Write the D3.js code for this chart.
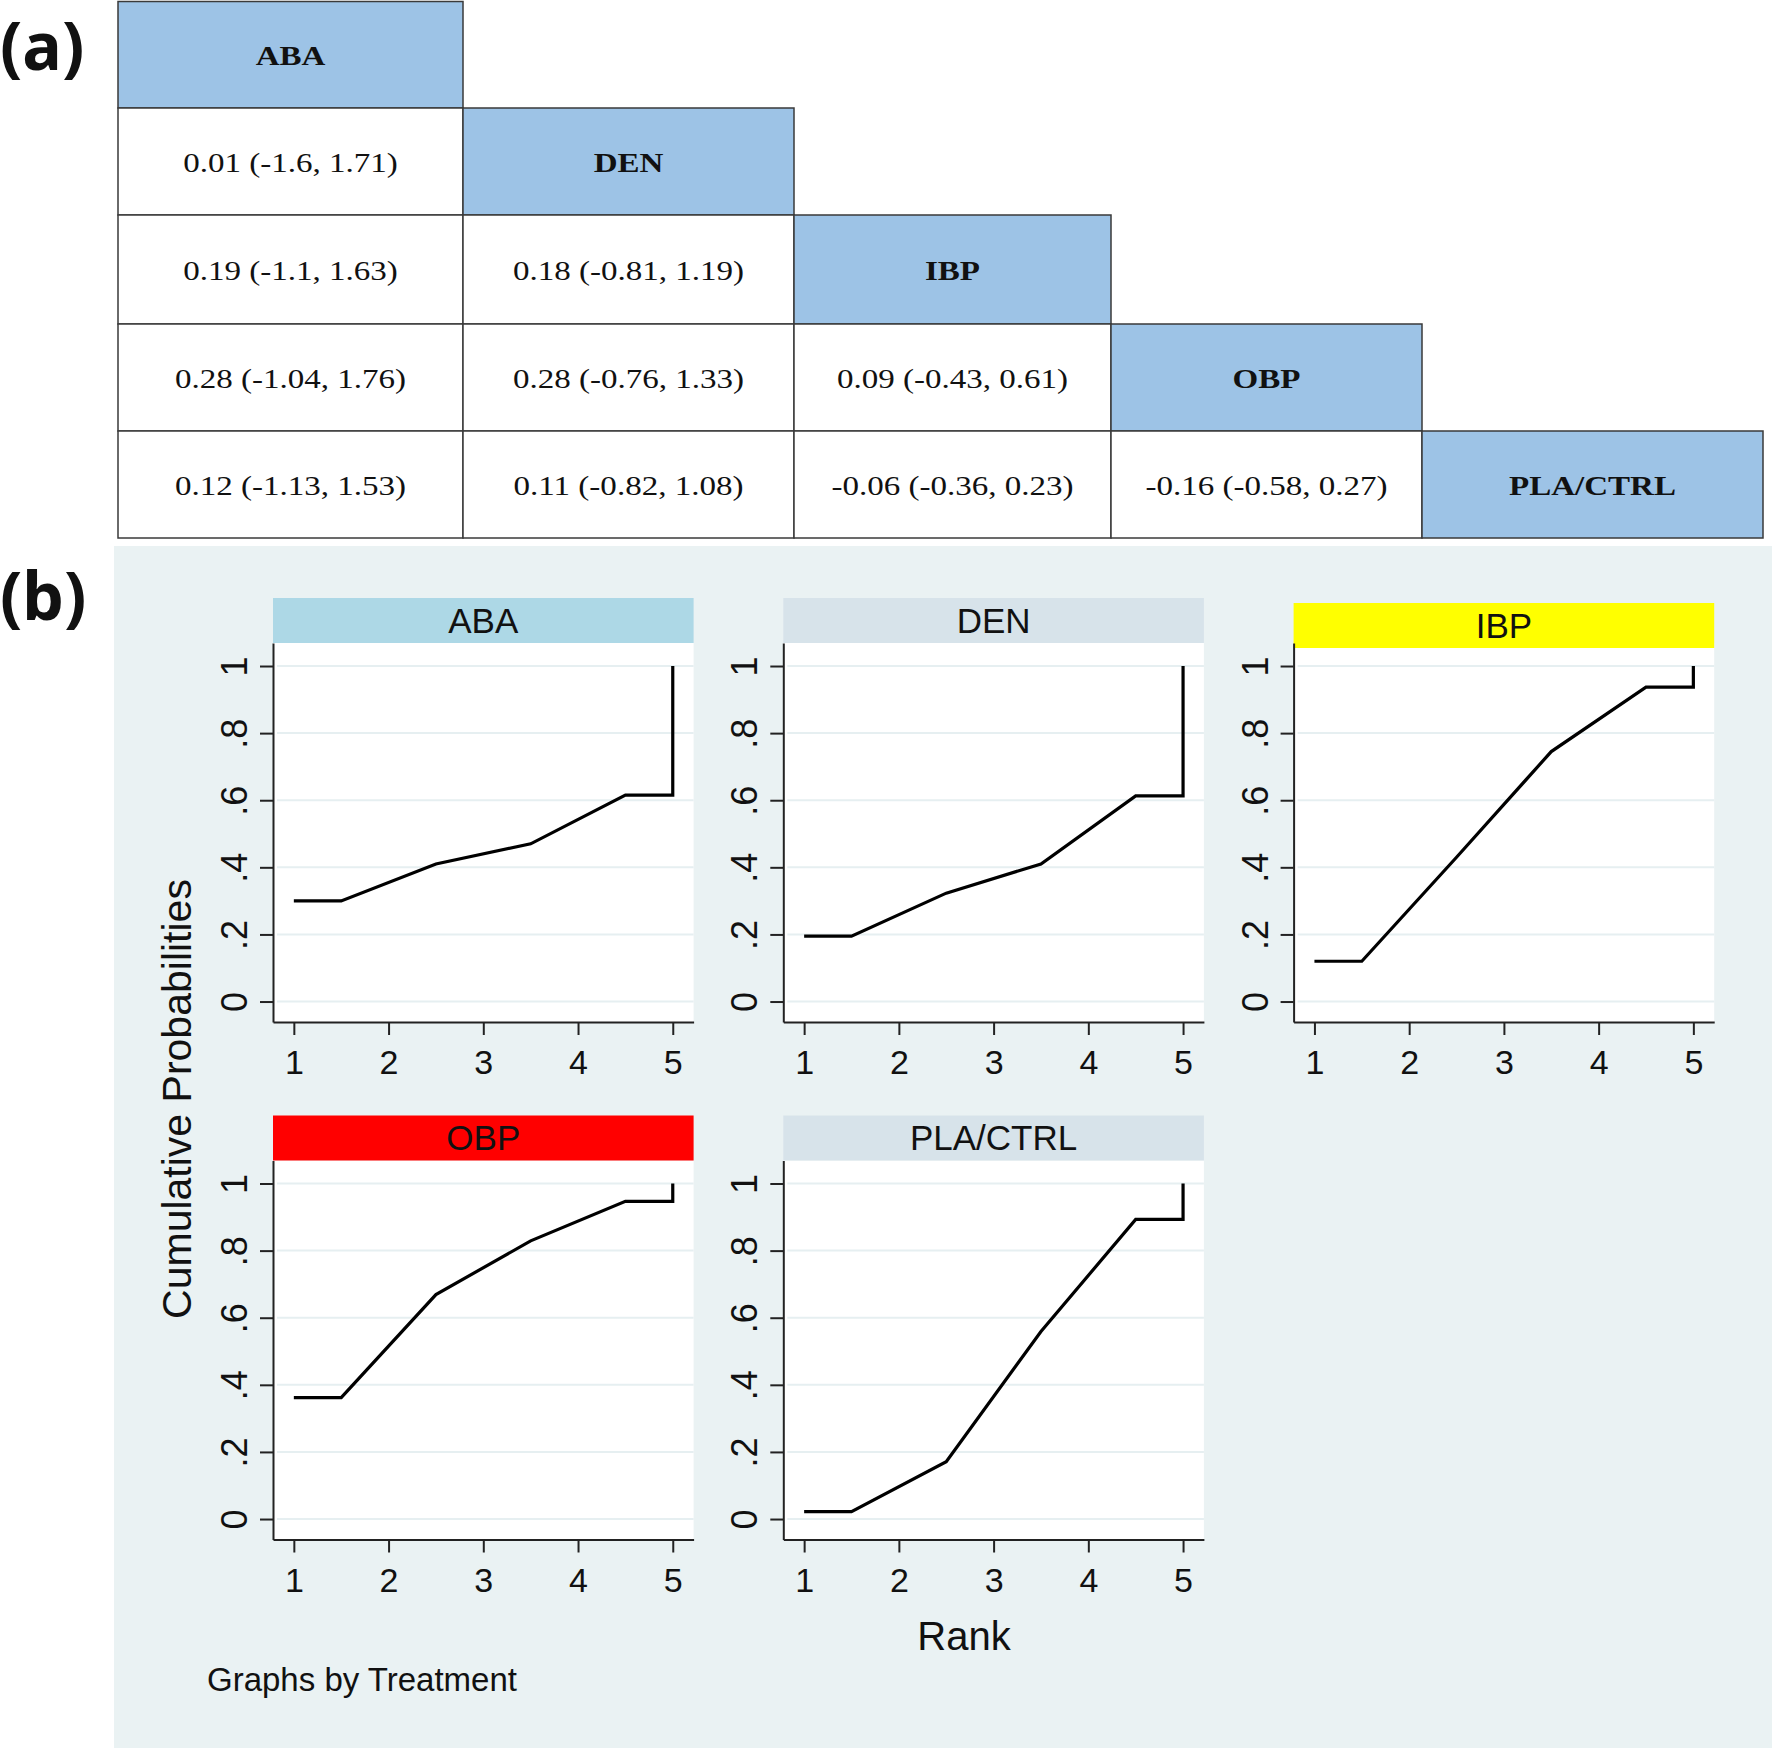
<!DOCTYPE html>
<html>
<head>
  <meta charset="utf-8">
  <title>League table and cumulative ranking</title>
  <script src="https://d3js.org/d3.v7.min.js"></script>
  <style>
    body { margin: 0; background: #fff; }
    .cell rect { stroke: #3a3a3a; stroke-width: 1.5px; }
    .cell text { font-family: "Liberation Serif", "Times New Roman", serif; font-size: 28px; fill: #111; }
    .cell.head text { font-weight: bold; }
    .tag { font-family: "Noto Sans", sans-serif; font-weight: bold; font-size: 66px; fill: #111; }
    .axis path, .axis line { stroke: #222; stroke-width: 2px; }
    .grid { stroke: #e6eff1; stroke-width: 2px; }
    .curve { fill: none; stroke: #000; stroke-width: 3.2px; stroke-linejoin: miter; }
    .strip text { font-family: "Liberation Sans", Arial, sans-serif; font-size: 35px; fill: #111; }
    .title { font-family: "Liberation Sans", Arial, sans-serif; fill: #111; }
  </style>
</head>
<body>
  <svg width="1772" height="1748"></svg>

  <script>
    // treatments, in table and panel order
    const treatments = ["ABA", "DEN", "IBP", "OBP", "PLA/CTRL"];

    // league table, lower triangle: [estimate, lower, upper] (row treatment vs column treatment)
    const rowDEN = [[0.01, -1.6, 1.71]];
    const rowIBP = [[0.19, -1.1, 1.63], [0.18, -0.81, 1.19]];
    const rowOBP = [[0.28, -1.04, 1.76], [0.28, -0.76, 1.33], [0.09, -0.43, 0.61]];
    const rowPLA = [[0.12, -1.13, 1.53], [0.11, -0.82, 1.08], [-0.06, -0.36, 0.23], [-0.16, -0.58, 0.27]];
    const league = [[], rowDEN, rowIBP, rowOBP, rowPLA];

    // cumulative ranking probabilities for ranks 1..5
    const cumABA = [0.30, 0.41, 0.47, 0.615, 1.0];
    const cumDEN = [0.195, 0.323, 0.41, 0.613, 1.0];
    const cumIBP = [0.12, 0.43, 0.745, 0.937, 1.0];
    const cumOBP = [0.362, 0.669, 0.829, 0.947, 1.0];
    const cumPLA = [0.022, 0.171, 0.559, 0.893, 1.0];
    const cumProbs = [cumABA, cumDEN, cumIBP, cumOBP, cumPLA];

    const stripColors = ["#add8e6", "#d7e3ea", "#ffff00", "#ff0000", "#d7e3ea"];
    const rankTicks = [1, 2, 3, 4, 5];
    const probTicks = [0, 0.2, 0.4, 0.6, 0.8, 1];

    const svg = d3.select("svg");

    // ---------- (a) league table ----------
    const colEdges = [118, 463, 794, 1111, 1422, 1763];
    const rowEdges = [1.5, 108, 215, 324, 431, 538];
    const fmt = v => String(v);

    const cells = [];
    treatments.forEach((t, i) => {
      league[i].forEach((v, j) => {
        cells.push({ row: i, col: j, head: false, text: `${fmt(v[0])} (${fmt(v[1])}, ${fmt(v[2])})` });
      });
      cells.push({ row: i, col: i, head: true, text: t });
    });

    const cell = svg.append("g").selectAll("g.cell")
      .data(cells)
      .enter().append("g")
      .attr("class", d => d.head ? "cell head" : "cell");

    cell.append("rect")
      .attr("x", d => colEdges[d.col])
      .attr("y", d => rowEdges[d.row])
      .attr("width", d => colEdges[d.col + 1] - colEdges[d.col])
      .attr("height", d => rowEdges[d.row + 1] - rowEdges[d.row])
      .attr("fill", d => d.head ? "#9dc3e6" : "#fff");

    cell.append("text")
      .attr("text-anchor", "middle")
      .attr("transform", d => {
        const cx = (colEdges[d.col] + colEdges[d.col + 1]) / 2;
        const cy = (rowEdges[d.row] + rowEdges[d.row + 1]) / 2 + 10;
        return `translate(${cx},${cy}) scale(1.18,1)`;
      })
      .text(d => d.text);

    svg.append("text").attr("class", "tag").attr("x", 0).attr("y", 70).text("(a)");

    // ---------- (b) cumulative ranking plots ----------
    svg.append("rect")
      .attr("x", 114).attr("y", 546)
      .attr("width", 1772 - 114).attr("height", 1748 - 546)
      .attr("fill", "#eaf2f3");

    svg.append("text").attr("class", "tag").attr("x", 0).attr("y", 620).text("(b)");

    const plotW = 420.6, plotH = 379, stripH = 45;
    const colX = [273, 783.3, 1293.6];
    const rowY = [643, 1160.5];
    const stripShift = [0, 0, 5, 0, 0];

    const x = d3.scaleLinear().domain([0.78, 5.22]).range([0, plotW]);
    const y = d3.scaleLinear().domain([-0.061, 1.0686]).range([plotH, 0]);

    const line = d3.line().x(d => x(d[0])).y(d => y(d[1]));

    treatments.forEach((t, k) => {
      const c = k % 3, r = Math.floor(k / 3);
      const g = svg.append("g").attr("transform", `translate(${colX[c]},${rowY[r]})`);

      g.append("rect").attr("width", plotW).attr("height", plotH).attr("fill", "#fff");

      const strip = g.append("g").attr("class", "strip")
        .attr("transform", `translate(0,${stripShift[k] - stripH})`);
      strip.append("rect").attr("width", plotW).attr("height", stripH).attr("fill", stripColors[k]);
      strip.append("text")
        .attr("x", plotW / 2).attr("y", stripH / 2 + 12)
        .attr("text-anchor", "middle")
        .text(t);

      g.selectAll("line.grid")
        .data(probTicks)
        .enter().append("line")
        .attr("class", "grid")
        .attr("x1", 4).attr("x2", plotW)
        .attr("y1", d => y(d)).attr("y2", d => y(d));

      const cp = cumProbs[k];
      const pts = [[1, cp[0]], [1.5, cp[0]], [2.5, cp[1]], [3.5, cp[2]], [4.5, cp[3]], [5, cp[3]], [5, cp[4]]];
      g.append("path").attr("class", "curve").attr("d", line(pts));

      const xa = g.append("g").attr("class", "axis")
        .attr("transform", `translate(0,${plotH})`)
        .call(d3.axisBottom(x).tickValues(rankTicks).tickFormat(d3.format("d"))
          .tickSize(13).tickSizeOuter(0).tickPadding(15));
      xa.attr("font-family", "Liberation Sans, Arial, sans-serif").attr("font-size", 34);
      xa.selectAll("text")
        .attr("dy", "0.71em")
        .style("font-size", "34px")
        .style("fill", "#111");

      const ya = g.append("g").attr("class", "axis")
        .call(d3.axisLeft(y).tickValues(probTicks).tickSize(13).tickSizeOuter(0)
          .tickFormat(d => d === 0 ? "0" : d === 1 ? "1" : d3.format(".1f")(d).replace(/^0/, "")));
      ya.attr("font-family", "Liberation Sans, Arial, sans-serif").attr("font-size", 36);
      ya.selectAll("text")
        .attr("x", null).attr("dy", null)
        .attr("text-anchor", "middle")
        .attr("transform", "translate(-26,0) rotate(-90)")
        .style("font-size", "36px")
        .style("fill", "#111");
    });

    svg.append("text").attr("class", "title")
      .attr("font-size", 41)
      .attr("text-anchor", "middle")
      .attr("transform", "translate(191,1099) rotate(-90)")
      .text("Cumulative Probabilities");

    svg.append("text").attr("class", "title")
      .attr("font-size", 40)
      .attr("text-anchor", "middle")
      .attr("x", 964).attr("y", 1650)
      .text("Rank");

    svg.append("text").attr("class", "title")
      .attr("font-size", 33)
      .attr("x", 207).attr("y", 1691)
      .text("Graphs by Treatment");
  </script>
</body>
</html>
